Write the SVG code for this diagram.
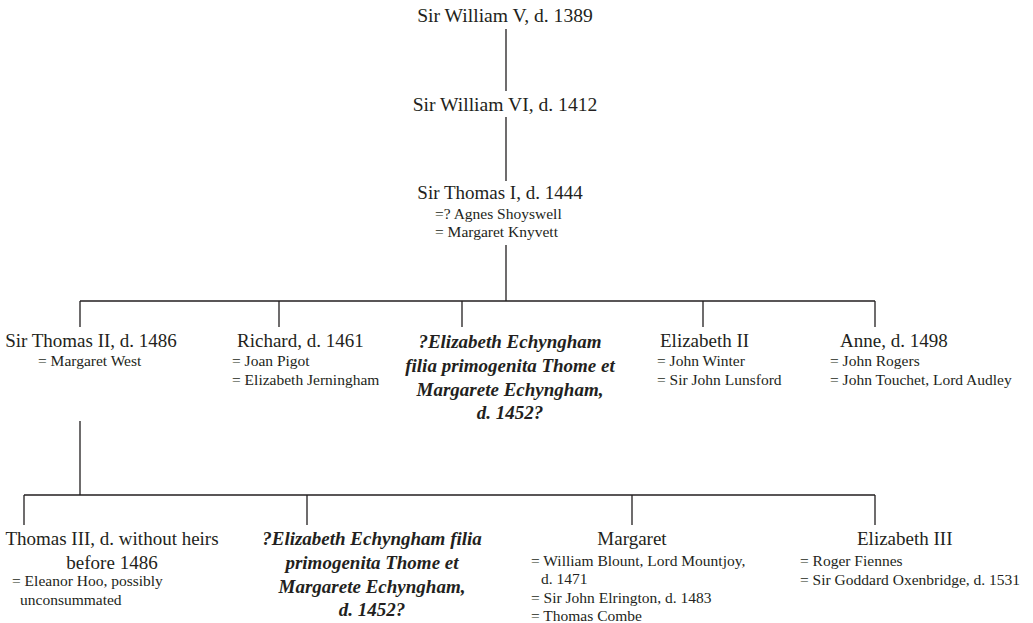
<svg xmlns="http://www.w3.org/2000/svg" width="1033" height="623" viewBox="0 0 1033 623">
<style>
text{font-family:"Liberation Serif","Times New Roman",serif;fill:#231f20}
.n{font-size:19px}
.t{font-size:19.6px}
.s{font-size:15.5px}
.b{font-size:19px;font-weight:bold;font-style:italic}
.m{text-anchor:middle}
.c{stroke:#231f20;stroke-width:1.3;fill:none}
</style>
<rect width="1033" height="623" fill="#ffffff"/>
<g id="connectors" class="c">
<path d="M506 29V91M506 117V181M506 245V301M80 301H875M80 301V327M279 301V327M462 301V327M703 301V327M875 301V327"/>
<path d="M80 421V495M24 495H875M24 495V525M307 495V525M632 495V525M875 495V525"/>
</g>
<g id="william5"><text class="t m" x="505" y="22">Sir William V, d. 1389</text></g>
<g id="william6"><text class="t m" x="505" y="111">Sir William VI, d. 1412</text></g>
<g id="thomas1"><text class="n m" x="500" y="199">Sir Thomas I, d. 1444</text>
<text class="s" x="435" y="219">=? Agnes Shoyswell</text>
<text class="s" x="435" y="237">= Margaret Knyvett</text></g>
<g id="thomas2"><text class="n m" x="91" y="347">Sir Thomas II, d. 1486</text>
<text class="s" x="38" y="366">= Margaret West</text></g>
<g id="richard"><text class="n" x="237" y="347">Richard, d. 1461</text>
<text class="s" x="232" y="366">= Joan Pigot</text>
<text class="s" x="232" y="385">= Elizabeth Jerningham</text></g>
<g id="elizabeth-e1"><text class="b m" x="510" y="348">?Elizabeth Echyngham</text>
<text class="b m" x="510" y="372">filia primogenita Thome et</text>
<text class="b m" x="510" y="396">Margarete Echyngham,</text>
<text class="b m" x="510" y="419">d. 1452?</text></g>
<g id="elizabeth2"><text class="n" x="660" y="347">Elizabeth II</text>
<text class="s" x="657" y="366">= John Winter</text>
<text class="s" x="657" y="385">= Sir John Lunsford</text></g>
<g id="anne"><text class="n" x="840" y="347">Anne, d. 1498</text>
<text class="s" x="830" y="366">= John Rogers</text>
<text class="s" x="830" y="385">= John Touchet, Lord Audley</text></g>
<g id="thomas3"><text class="n m" x="112" y="545">Thomas III, d. without heirs</text>
<text class="n m" x="112" y="569">before 1486</text>
<text class="s" x="12" y="586">= Eleanor Hoo, possibly</text>
<text class="s" x="20" y="605">unconsummated</text></g>
<g id="elizabeth-e2"><text class="b m" x="372" y="545">?Elizabeth Echyngham filia</text>
<text class="b m" x="372" y="569">primogenita Thome et</text>
<text class="b m" x="372" y="593">Margarete Echyngham,</text>
<text class="b m" x="372" y="616">d. 1452?</text></g>
<g id="margaret"><text class="n m" x="632" y="545">Margaret</text>
<text class="s" x="531" y="566">= William Blount, Lord Mountjoy,</text>
<text class="s" x="541" y="584">d. 1471</text>
<text class="s" x="531" y="603">= Sir John Elrington, d. 1483</text>
<text class="s" x="531" y="621">= Thomas Combe</text></g>
<g id="elizabeth3"><text class="n" x="857" y="545">Elizabeth III</text>
<text class="s" x="800" y="566">= Roger Fiennes</text>
<text class="s" x="800" y="585">= Sir Goddard Oxenbridge, d. 1531</text></g>
</svg>
